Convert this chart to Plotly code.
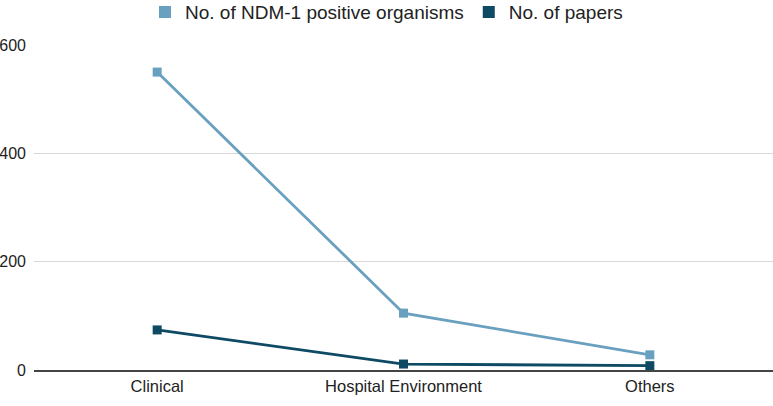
import plotly.graph_objects as go

categories = ["Clinical", "Hospital Environment", "Others"]
ndm_organisms = [550, 105, 28]
papers = [74, 11, 8]
y_ticks = [0, 200, 400, 600]

series = [
    ("No. of NDM-1 positive organisms", ndm_organisms, "#6aa0bf"),
    ("No. of papers", papers, "#0e4a63"),
]

fig = go.Figure()
for name, vals, col in series:
    fig.add_trace(go.Scatter(
        x=categories, y=vals, name=name, mode="lines+markers",
        line=dict(color=col, width=2.8),
        marker=dict(symbol="square", size=9, color=col),
        showlegend=False,
    ))
for name, vals, col in series:
    fig.add_trace(go.Scatter(
        x=[categories[0]], y=[None], name=name, mode="markers",
        marker=dict(symbol="square", size=12, color=col),
        showlegend=True,
    ))

fig.update_layout(
    width=773, height=406,
    margin=dict(l=34, r=0, t=45, b=36),
    paper_bgcolor="white", plot_bgcolor="white",
    font=dict(family="Liberation Sans, Arial, sans-serif", size=16, color="#222222"),
    legend=dict(orientation="h", x=0.5, xanchor="center", xref="container",
                y=0.97, yanchor="middle", yref="container",
                font=dict(size=19, color="#222222"),
                itemwidth=30, tracegroupgap=0),
    showlegend=True,
)
fig.update_xaxes(
    showgrid=False, showline=True, linecolor="#444444", linewidth=1.5,
    ticks="", tickfont=dict(size=16.5), range=[-0.5, 2.5],
)
fig.update_yaxes(
    range=[0, 600], tickvals=y_ticks, showgrid=True, gridcolor="#d9d9d9",
    gridwidth=1, zeroline=False, showline=False, ticks="",
    tickfont=dict(size=16), ticklabelstandoff=7,
)

fig.write_html("out.html")
